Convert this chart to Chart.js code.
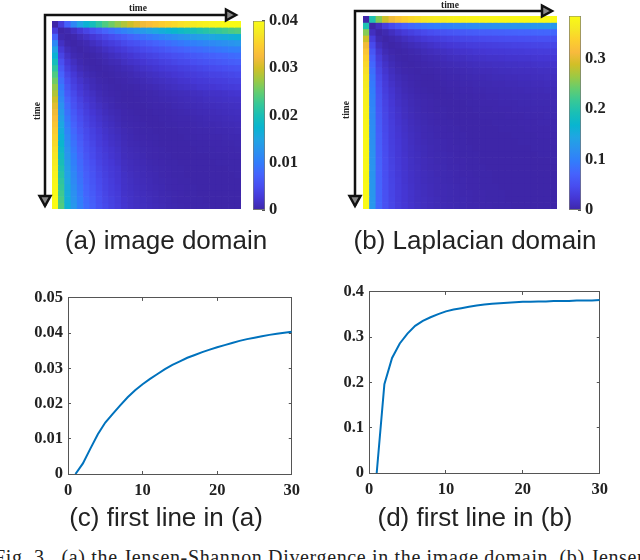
<!DOCTYPE html>
<html>
<head>
<meta charset="utf-8">
<script src="https://cdn.jsdelivr.net/npm/chart.js@4/dist/chart.umd.min.js"></script>
<style>
  html, body { margin: 0; padding: 0; background: #fff; width: 640px; height: 560px; overflow: hidden; }
  canvas, .cap, svg { position: absolute; }
  .cap { font-family: "Liberation Sans", sans-serif; font-size: 26px; color: #222; white-space: nowrap; transform: translateX(-50%); }
  #fig { font-family: "Liberation Serif", serif; font-size: 20px; color: #222; white-space: nowrap; left: -6px; top: 546px; position: absolute; letter-spacing: 0.65px; }
</style>
</head>
<body>
<canvas id="heatA" width="189" height="188" style="left:52px;top:21px"></canvas>
<canvas id="barA" width="60" height="223" style="left:253px;top:4px"></canvas>
<canvas id="heatB" width="194" height="193" style="left:363px;top:16px"></canvas>
<canvas id="barB" width="60" height="228" style="left:569px;top:-1px"></canvas>
<canvas id="lineC" width="292" height="224" style="left:18px;top:280px"></canvas>
<canvas id="lineD" width="289" height="229" style="left:329px;top:274px"></canvas>

<svg width="640" height="230" style="left:0;top:0">
  <g fill="none" stroke="#111" stroke-width="2.5">
    <path d="M45 206V15H226"/>
    <path d="M226 9.5L236 15L226 20.5Z" fill="#888"/>
    <path d="M39.5 196L45 206L50.5 196Z" fill="#888"/>
    <path d="M355 206V11H542"/>
    <path d="M542 5.5L552 11L542 16.5Z" fill="#888"/>
    <path d="M349.5 196L355 206L360.500 196Z" fill="#888"/>
  </g>
  <g font-family="Liberation Serif" font-size="9.5" font-weight="bold" fill="#222" text-anchor="middle">
    <text x="138" y="11">time</text>
    <text transform="translate(40 111) rotate(-90)">time</text>
    <text x="450" y="8">time</text>
    <text transform="translate(349 110) rotate(-90)">time</text>
  </g>
</svg>

<div class="cap" style="left:166px;top:225px">(a) image domain</div>
<div class="cap" style="left:475px;top:225px">(b) Laplacian domain</div>
<div class="cap" style="left:166px;top:502px">(c) first line in (a)</div>
<div class="cap" style="left:475px;top:502px">(d) first line in (b)</div>
<div id="fig">Fig. 3.&nbsp; (a) the Jensen-Shannon Divergence in the image domain, (b) Jensen-Shannon</div>

<script>
// first-row curves (c) and (d)
const frames = [1,2,3,4,5,6,7,8,9,10,11,12,13,14,15,16,17,18,19,20,21,22,23,24,25,26,27,28,29,30];
const firstLineA = [0,0.003,0.0072,0.0113,0.0146,0.0171,0.0195,0.0218,0.0238,0.0255,0.027,0.0284,0.0298,0.031,0.032,0.033,0.0338,0.0346,0.0353,0.036,0.0366,0.0372,0.0378,0.0383,0.0387,0.0391,0.0395,0.0398,0.0401,0.0404];
const firstLineB = [0,0.196,0.254,0.286,0.308,0.325,0.336,0.344,0.351,0.357,0.361,0.364,0.367,0.37,0.372,0.374,0.375,0.376,0.377,0.378,0.378,0.379,0.379,0.38,0.38,0.38,0.381,0.381,0.381,0.382];

// upper triangle of the matrix in (a), unit 1e-4, each row starts on the diagonal
const matrixA = [
  [0,30,72,113,146,171,195,218,238,255,270,284,298,310,320,330,338,346,353,360,366,372,378,383,387,391,395,398,401,404],
  [0,4,15,27,40,52,64,75,86,97,107,117,127,136,145,154,162,170,178,185,192,198,205,211,218,223,229,235,240],
  [0,3,10,17,25,33,42,50,58,65,74,81,88,95,101,108,114,120,126,131,137,142,146,151,156,159,164,168],
  [0,3,6,13,19,26,32,38,45,51,56,63,68,74,79,84,90,95,100,104,108,113,116,120,124,128,132],
  [0,3,5,9,15,20,25,30,36,41,46,50,55,59,65,69,73,77,81,84,88,91,95,98,102,104],
  [0,1,4,8,12,16,20,24,29,33,37,41,45,48,52,55,59,63,66,69,72,75,77,81,84],
  [0,1,4,7,9,14,18,20,24,28,31,35,38,42,45,47,51,54,57,59,62,65,68,70],
  [0,1,3,5,8,10,14,17,20,23,26,29,31,34,36,39,42,44,47,49,51,53,56],
  [0,1,3,4,6,9,11,14,16,19,21,24,26,29,31,33,35,38,39,41,43,45],
  [0,1,2,4,5,7,10,12,14,16,18,21,22,25,27,28,31,32,33,36,37],
  [0,1,1,2,5,6,8,10,12,14,16,18,19,22,23,24,26,28,29,31],
  [0,0,1,2,3,4,6,7,9,10,11,13,14,16,17,18,19,21,22],
  [0,0,1,2,3,4,5,6,8,9,10,11,13,14,15,16,17,18],
  [0,0,1,2,2,3,5,6,7,8,9,10,11,12,13,14,15],
  [0,0,1,1,2,3,4,5,6,7,8,9,10,11,12,13],
  [0,0,1,1,2,3,3,4,5,6,7,8,9,10,11],
  [0,0,1,1,2,2,3,4,5,5,6,7,8,9],
  [0,0,0,1,1,2,3,3,4,5,5,6,7],
  [0,0,0,1,1,2,2,3,3,4,5,5],
  [0,0,0,1,1,1,2,2,3,3,4],
  [0,0,0,1,1,1,2,2,2,3],
  [0,0,0,0,1,1,1,2,2],
  [0,0,0,0,1,1,1,1],
  [0,0,0,0,0,1,1],
  [0,0,0,0,0,1],
  [0,0,0,0,0],
  [0,0,0,0],
  [0,0,0],
  [0,0],
  [0]
];

// same for (b), unit 1e-3
const matrixB = [
  [0,196,254,286,308,325,336,344,351,357,361,364,367,370,372,374,375,376,377,378,378,379,379,380,380,380,381,381,381,382],
  [0,12,30,45,58,68,76,83,89,94,98,102,105,108,110,113,115,117,118,120,121,122,123,124,125,126,126,127,127],
  [0,5,13,21,28,34,39,44,48,51,54,57,59,61,63,64,66,67,68,69,70,71,72,72,73,74,74,75],
  [0,3,7,12,17,21,25,28,31,34,36,38,40,41,43,44,45,46,47,48,48,49,50,50,51,51,52],
  [0,2,5,8,11,14,17,20,22,24,26,27,29,30,31,32,33,34,35,36,36,37,38,38,39,40],
  [0,1,3,5,8,10,12,14,16,18,19,20,22,23,24,25,25,26,27,27,28,28,29,29,30],
  [0,1,2,4,6,7,9,11,12,13,15,16,17,18,18,19,20,20,21,21,22,23,23,24],
  [0,1,2,3,4,6,7,8,9,10,11,12,13,14,14,15,15,16,16,17,18,18,19],
  [0,1,1,2,3,4,5,6,7,8,9,9,10,11,11,12,12,13,13,14,14,15],
  [0,0,1,2,3,3,4,5,6,6,7,8,8,9,9,10,10,11,11,12,12],
  [0,0,1,2,2,3,3,4,5,5,6,6,7,7,8,8,9,9,10,10],
  [0,0,1,1,2,2,3,3,4,4,5,5,6,6,7,7,7,8,8],
  [0,0,1,1,1,2,2,3,3,4,4,5,5,5,6,6,6,7],
  [0,0,0,1,1,2,2,2,3,3,3,4,4,5,5,5,6],
  [0,0,0,1,1,1,2,2,2,3,3,3,4,4,4,5],
  [0,0,0,1,1,1,1,2,2,2,3,3,3,4,4],
  [0,0,0,0,1,1,1,1,2,2,2,3,3,3],
  [0,0,0,0,1,1,1,1,2,2,2,2,3],
  [0,0,0,0,0,1,1,1,1,2,2,2],
  [0,0,0,0,0,1,1,1,1,1,2],
  [0,0,0,0,0,0,1,1,1,1],
  [0,0,0,0,0,0,1,1,1],
  [0,0,0,0,0,0,0,1],
  [0,0,0,0,0,0,0],
  [0,0,0,0,0,0],
  [0,0,0,0,0],
  [0,0,0,0],
  [0,0,0],
  [0,0],
  [0]
];

const barTicksA = [0, 0.01, 0.02, 0.03, 0.04];
const barTicksB = [0, 0.1, 0.2, 0.3];
const xTicks = [0, 10, 20, 30];
const yTicksC = [0, 0.01, 0.02, 0.03, 0.04, 0.05];
const yTicksD = [0, 0.1, 0.2, 0.3, 0.4];

// parula
const parula = [[62,38,168],[69,55,213],[72,77,240],[69,99,253],[50,124,252],[43,145,239],[32,165,227],[8,181,208],[25,191,182],[55,200,151],[100,205,111],[157,201,67],[209,191,39],[248,186,61],[252,207,46],[245,233,36],[249,251,21]];

function parulaColor(t) {
  t = Math.min(Math.max(t, 0), 1) * (parula.length - 1);
  const i = Math.min(Math.floor(t), parula.length - 2);
  const f = t - i;
  const c = parula[i].map((v, k) => Math.round(v + (parula[i + 1][k] - v) * f));
  return `rgb(${c[0]},${c[1]},${c[2]})`;
}

const tickFont = { family: 'Liberation Serif', size: 16.5, weight: 'bold' };
const axisColor = '#555';

function fmt(v) {
  return v === 0 ? '0' : String(v);
}

function heatmap(id, matrix, unit, vmax) {
  const cell = (i, j) => (i <= j ? matrix[i][j - i] : matrix[j][i - j]) * unit;
  const datasets = matrix.map((_, i) => ({
    data: frames.map(() => 1),
    backgroundColor: frames.map((_, j) => parulaColor(cell(i, j) / vmax)),
    borderWidth: 0,
    barPercentage: 1,
    categoryPercentage: 1
  }));
  new Chart(document.getElementById(id), {
    type: 'bar',
    data: { labels: frames, datasets },
    options: {
      responsive: false,
      animation: false,
      plugins: { legend: { display: false }, tooltip: { enabled: false } },
      scales: {
        x: { display: false, stacked: true },
        y: { display: false, stacked: true, min: 0, max: frames.length, reverse: true }
      }
    }
  });
}

function colorbar(id, vmax, ticks, padTop, padBottom) {
  new Chart(document.getElementById(id), {
    type: 'bar',
    data: {
      labels: [''],
      datasets: [{
        data: [vmax],
        barPercentage: 1,
        categoryPercentage: 1,
        borderWidth: 1,
        borderSkipped: false,
        borderColor: '#777',
        backgroundColor: ctx => {
          const area = ctx.chart.chartArea;
          if (!area) return '#000';
          const g = ctx.chart.ctx.createLinearGradient(0, area.bottom, 0, area.top);
          parula.forEach((c, i) => g.addColorStop(i / (parula.length - 1), `rgb(${c})`));
          return g;
        }
      }]
    },
    options: {
      responsive: false,
      animation: false,
      layout: { padding: { top: padTop, bottom: padBottom } },
      plugins: { legend: { display: false }, tooltip: { enabled: false } },
      scales: {
        x: { display: false },
        y: {
          position: 'right',
          min: 0,
          max: vmax,
          afterBuildTicks: s => { s.ticks = ticks.map(value => ({ value })); },
          afterFit: s => { s.width = 48; },
          border: { display: false },
          grid: { drawOnChartArea: false, drawTicks: true, tickLength: -3, color: axisColor },
          ticks: { padding: 7, color: '#222', font: tickFont, autoSkip: false, maxRotation: 0, callback: fmt }
        }
      }
    }
  });
}

function linePanel(id, series, ymax, yTicks, left, pad) {
  new Chart(document.getElementById(id), {
    type: 'line',
    data: {
      datasets: [{
        data: frames.map((x, i) => ({ x, y: series[i] })),
        borderColor: '#0072BD',
        borderWidth: 2,
        pointRadius: 0,
        tension: 0
      }]
    },
    options: {
      responsive: false,
      animation: false,
      layout: { padding: pad },
      plugins: { legend: { display: false }, tooltip: { enabled: false } },
      scales: {
        x: frameAxis('bottom', true),
        x2: frameAxis('top', false),
        y: valueAxis('left', true, ymax, yTicks, left),
        y2: valueAxis('right', false, ymax, yTicks, 0)
      }
    }
  });
}

function frameAxis(position, labelled) {
  return {
    type: 'linear',
    position,
    min: 0,
    max: 30,
    afterBuildTicks: s => { s.ticks = xTicks.map(value => ({ value })); },
    afterFit: s => { s.height = labelled ? 30 : 0; },
    border: { color: axisColor },
    grid: { drawOnChartArea: false, tickLength: -3, color: axisColor },
    ticks: { display: labelled, padding: 10, color: '#222', font: tickFont, maxRotation: 0, autoSkip: false, callback: fmt }
  };
}

function valueAxis(position, labelled, ymax, yTicks, width) {
  return {
    type: 'linear',
    position,
    min: 0,
    max: ymax,
    afterBuildTicks: s => { s.ticks = yTicks.map(value => ({ value })); },
    afterFit: s => { s.width = width; },
    border: { color: axisColor },
    grid: { drawOnChartArea: false, tickLength: -3, color: axisColor },
    ticks: { display: labelled, padding: 8, color: '#222', font: tickFont, autoSkip: false, callback: fmt }
  };
}

heatmap('heatA', matrixA, 1e-4, 0.04);
heatmap('heatB', matrixB, 1e-3, 0.384);
colorbar('barA', 0.04, barTicksA, 10, 10);
colorbar('barB', 0.384, barTicksB, 10, 10);
linePanel('lineC', firstLineA, 0.05, yTicksC, 50, { top: 10, right: 15 });
linePanel('lineD', firstLineB, 0.4, yTicksD, 40, { top: 10, right: 10 });
</script>
</body>
</html>
